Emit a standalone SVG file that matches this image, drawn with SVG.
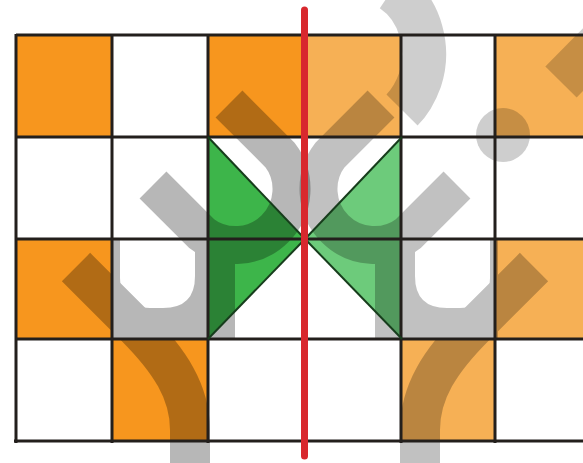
<svg xmlns="http://www.w3.org/2000/svg" xmlns:xlink="http://www.w3.org/1999/xlink" width="583" height="463" viewBox="0 0 583 463">
  <style>
    .orL { fill: #F7961E; }
    .orR { fill: #F6B055; }
    .grL { fill: #3DB54A; }
    .grR { fill: #6DCB7B; }
    .grid { stroke: #231f1c; stroke-width: 3; fill: none; }
    .diag { stroke: #173d1c; stroke-width: 2; fill: none; }
    .wm { stroke: #000; fill: none; }
  </style>
  <defs>
    <g id="wmLeft">
      <path class="wm" stroke-width="40" d="M76,267 L135,326 C170,361 190,392 190,430 L190,475"/>
      <path class="wm" stroke-width="38" d="M229,104 L280,155 A56,56 0 0 1 201.5,233.5 L153,185"/>
      <path class="wm" stroke-width="40" d="M215,232 L215,339"/>
      <path fill="#000" fill-rule="evenodd" d="M112,239 H208 V339 H112 Z M120,239 H195 V276 Q195,308 163,308 H150 Q120,308 120,278 Z"/>
    </g>
  </defs>
  <rect x="0" y="0" width="583" height="463" fill="#ffffff"/>

  <g id="cells">
    <rect class="orL" x="16" y="35" width="96" height="102"/>
    <rect class="orL" x="208" y="35" width="97" height="102"/>
    <rect class="orL" x="16" y="239" width="96" height="100"/>
    <rect class="orL" x="112" y="339" width="96" height="102"/>
    <rect class="orR" x="305" y="35" width="97" height="102"/>
    <rect class="orR" x="496" y="35" width="87" height="102"/>
    <rect class="orR" x="496" y="239" width="87" height="100"/>
    <rect class="orR" x="402" y="339" width="94" height="102"/>
  </g>

  <g id="triangles">
    <polygon class="grL" points="208,137 305,239 208,239"/>
    <polygon class="grL" points="208,239 305,239 208,339"/>
    <polygon class="grR" points="402,137 305,239 402,239"/>
    <polygon class="grR" points="402,239 305,239 402,339"/>
  </g>

  <g id="watermark-left" opacity="0.28">
    <use xlink:href="#wmLeft"/>
  </g>
  <g id="watermark-right" opacity="0.24">
    <use xlink:href="#wmLeft" transform="translate(610,0) scale(-1,1)"/>
  </g>
  <g id="watermark-extra" opacity="0.19">
    <path class="wm" stroke-width="44" d="M392,-10 C422,10 430,50 420,80 C415,94 409,103 402,110"/>
    <path class="wm" stroke-width="44" d="M561,82 L625,17"/>
    <circle cx="503" cy="135" r="27" fill="#000"/>
  </g>

  <g id="grid">
    <line class="grid" x1="16" y1="35" x2="583" y2="35" stroke-width="2.5"/>
    <line class="grid" x1="16" y1="137" x2="583" y2="137"/>
    <line class="grid" x1="16" y1="239" x2="583" y2="239"/>
    <line class="grid" x1="16" y1="339" x2="583" y2="339"/>
    <line class="grid" x1="14" y1="441" x2="583" y2="441" stroke-width="4"/>
    <line class="grid" x1="16" y1="34" x2="16" y2="443"/>
    <line class="grid" x1="112" y1="34" x2="112" y2="443"/>
    <line class="grid" x1="208" y1="34" x2="208" y2="443"/>
    <line class="grid" x1="305" y1="34" x2="305" y2="443"/>
    <line class="grid" x1="401" y1="34" x2="401" y2="443"/>
    <line class="grid" x1="495" y1="34" x2="495" y2="443"/>
  </g>

  <g id="diagonals">
    <line class="diag" x1="208" y1="137" x2="305" y2="239"/>
    <line class="diag" x1="305" y1="239" x2="208" y2="339"/>
    <line class="diag" x1="402" y1="137" x2="305" y2="239"/>
    <line class="diag" x1="305" y1="239" x2="402" y2="339"/>
  </g>

  <g id="axis">
    <line x1="304.5" y1="10" x2="304.5" y2="456" stroke="#D8282E" stroke-width="7" stroke-linecap="round"/>
  </g>
</svg>
